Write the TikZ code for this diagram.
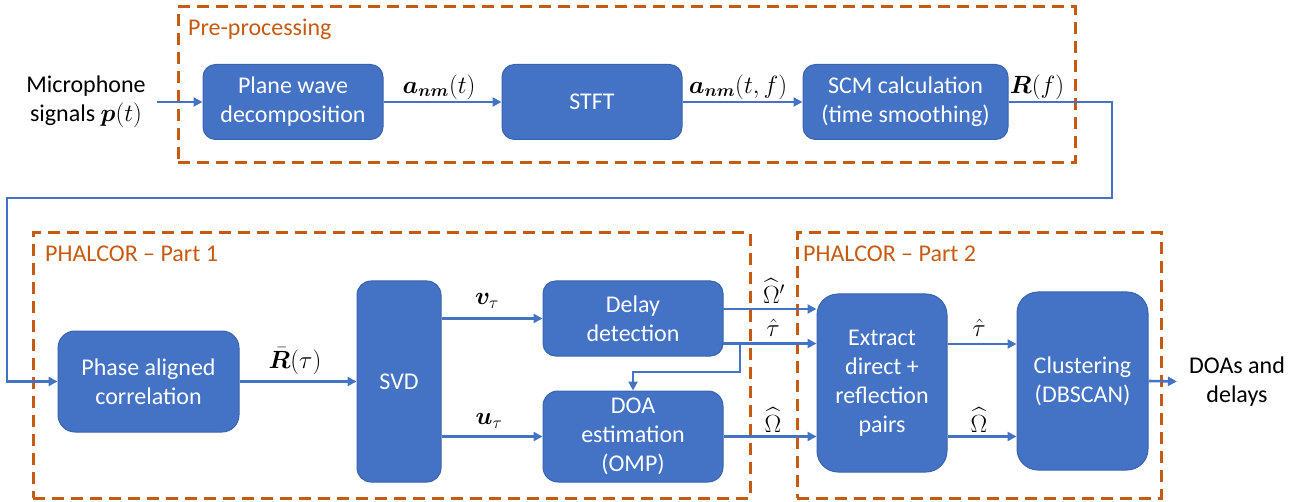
\documentclass[tikz,border=0pt]{standalone}
\usepackage{amsmath}
\usepackage{bm}
\usepackage{fontspec}
\setmainfont{Carlito}
\usetikzlibrary{arrows.meta}
\definecolor{boxblue}{HTML}{4472C4}
\definecolor{boxedge}{HTML}{3A63AE}
\definecolor{dashor}{HTML}{C55A11}
\begin{document}
\begin{tikzpicture}[x=1pt,y=-1pt,
  blk/.style={draw=boxedge, fill=boxblue, rounded corners=12.5pt, text=white, align=center,
    font=\fontsize{24}{29}\selectfont, line width=1pt, inner sep=0pt},
  conn/.style={draw=boxblue, line width=2.6pt, -{Triangle[length=9pt,width=9pt]}},
  grp/.style={draw=dashor, line width=3pt, dash pattern=on 12pt off 7pt, inner sep=0pt},
  grplabel/.style={text=dashor, anchor=west, font=\fontsize{24}{29}\selectfont, inner sep=0pt},
  lbl/.style={font=\fontsize{25}{30}\selectfont, inner sep=0pt},
  plain/.style={font=\fontsize{24}{29}\selectfont, align=center, inner sep=0pt}]
\useasboundingbox (0,0) rectangle (1305,502);

% group frames
\node[grp, minimum width=897pt, minimum height=156pt] (g0) at (626.5,85) {};
\node[grp, minimum width=717pt, minimum height=265pt] (g1) at (391.5,365.5) {};
\node[grp, minimum width=364pt, minimum height=265pt] (g2) at (979,365.5) {};
\node[grplabel] (g0l) at (188,29) {Pre-processing};
\node[grplabel] (g1l) at (45,254) {PHALCOR -- Part 1};
\node[grplabel] (g2l) at (803,254) {PHALCOR -- Part 2};

% blocks
\node[blk, minimum width=180pt, minimum height=75pt] (pw) at (293,102) {Plane wave\\decomposition};
\node[blk, minimum width=180pt, minimum height=75pt] (stft) at (592,102) {STFT};
\node[blk, minimum width=205pt, minimum height=75pt] (scm) at (905.5,102) {SCM calculation\\(time smoothing)};
\node[blk, rounded corners=17pt, minimum width=181pt, minimum height=101pt] (pac) at (148.5,381.5) {Phase aligned\\correlation};
\node[blk, rounded corners=14pt, minimum width=84pt, minimum height=201pt] (svd) at (399,381.5) {SVD};
\node[blk, minimum width=180pt, minimum height=75pt] (delay) at (633,318.5) {Delay\\detection};
\node[blk, rounded corners=15pt, minimum width=180pt, minimum height=91pt] (doa) at (633,436.5) {DOA\\estimation\\(OMP)};
\node[blk, rounded corners=21pt, minimum width=130pt, minimum height=178pt] (ext) at (882,383) {Extract\\direct +\\reflection\\pairs};
\node[blk, rounded corners=21pt, minimum width=131pt, minimum height=178pt] (clu) at (1082.5,381) {Clustering\\(DBSCAN)};

% terminals
\node[plain] (mic) at (86,102) {Microphone\\signals $\bm{p}(t)$};
\node[plain] (out) at (1237,381.5) {DOAs and\\delays};

% connectors
\draw[conn] ([xshift=11pt]mic.east) -- (pw.west);
\draw[conn] (pw.east) -- (stft.west);
\draw[conn] (stft.east) -- (scm.west);
\coordinate (fbR) at (1112,198);
\coordinate (fbL) at (7,198);
\draw[conn] (scm.east) -| (fbR) -- (fbL) |- (pac.west);
\draw[conn] (pac.east) -- (svd.west);
\draw[conn] (svd.east |- delay.west) -- (delay.west);
\draw[conn] (svd.east |- doa.west) -- (doa.west);
\coordinate (o1) at (723,309);
\coordinate (t1) at (723,343.5);
\coordinate (br) at (740,343.5);
\draw[conn] (o1) -- (ext.west |- o1);
\draw[conn] (t1) -- (ext.west |- t1);
\draw[conn] (br) -- (740,372) -| (doa.north);
\draw[conn] (doa.east) -- (ext.west |- doa.east);
\draw[conn] (ext.east |- 0,344) -- (clu.west |- 0,344);
\draw[conn] (ext.east |- 0,436.5) -- (clu.west |- 0,436.5);
\draw[conn] (clu.east) -- ([xshift=-12pt]out.west);

% labels
\node[lbl] (l1) at (439,87) {$\bm{a}_{\bm{nm}}(t)$};
\node[lbl] (l2) at (738,87) {$\bm{a}_{\bm{nm}}(t,f)$};
\node[lbl] (l3) at (1037,87) {$\bm{R}(f)$};
\node[lbl] (l4) at (295,361) {$\bar{\bm{R}}(\tau)$};
\node[lbl] (l5) at (487,301) {$\bm{v}_{\tau}$};
\node[lbl] (l6) at (489,421) {$\bm{u}_{\tau}$};
\node[lbl] (l7) at (774,291) {$\widehat{\Omega}'$};
\node[lbl] (l8) at (773,328) {$\hat{\tau}$};
\node[lbl] (l9) at (773,420) {$\widehat{\Omega}$};
\node[lbl] (l10) at (979,328) {$\hat{\tau}$};
\node[lbl] (l11) at (979,420) {$\widehat{\Omega}$};
\end{tikzpicture}
\end{document}
